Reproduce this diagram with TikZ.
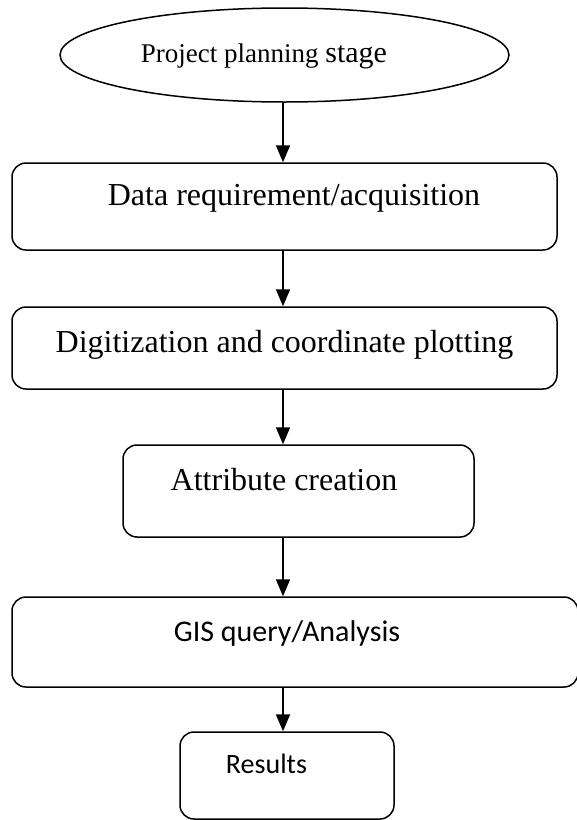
\documentclass[tikz,border=0pt]{standalone}
\usepackage{fontspec}
\setmainfont{Liberation Serif}
\newfontfamily\calfont{Carlito}
\usetikzlibrary{shapes.geometric,arrows.meta}

\begin{document}
\begin{tikzpicture}[x=1pt,y=-1pt,
  shapebox/.style={draw,line width=1.5pt,rounded corners=14pt,inner sep=0pt},
  flow/.style={draw,line width=1.8pt,-{Triangle[width=14pt,length=17pt]}},
  lbl/.style={anchor=base,inner sep=0pt}]
\useasboundingbox (0,0) rectangle (577,820);
\coordinate (ax) at (283,0);
\node[draw,ellipse,line width=1.5pt,minimum width=449pt,minimum height=94pt,inner sep=0pt] (e) at (284.5,55) {};
\node[shapebox,minimum width=545pt,minimum height=87pt] (b1) at (284.5,206.5) {};
\node[shapebox,minimum width=545pt,minimum height=82pt] (b2) at (284.5,348) {};
\node[shapebox,minimum width=351pt,minimum height=92pt] (b3) at (298.5,491) {};
\node[shapebox,minimum width=566pt,minimum height=90pt] (b4) at (295,642) {};
\node[shapebox,minimum width=214pt,minimum height=87pt] (b5) at (287,775.5) {};

\node[lbl] (t0) at (264,62) {\fontsize{27}{30}\selectfont Project planning \fontsize{30}{33}\selectfont stage};
\node[lbl] (t1) at (294,205) {\fontsize{32}{36}\selectfont Data requirement/acquisition};
\node[lbl] (t2) at (284.5,352) {\fontsize{32}{36}\selectfont Digitization and coordinate plotting};
\node[lbl] (t3) at (284,490) {\fontsize{32}{36}\selectfont Attribute creation};
\node[lbl] (t4) at (287,641) {\calfont\fontsize{30}{34}\selectfont GIS query/Analysis};
\node[lbl] (t5) at (266.5,773) {\calfont\fontsize{28}{32}\selectfont Results};

\draw[flow] (e.south -| ax) -- (b1.north -| ax);
\draw[flow] (b1.south -| ax) -- (b2.north -| ax);
\draw[flow] (b2.south -| ax) -- (b3.north -| ax);
\draw[flow] (b3.south -| ax) -- (b4.north -| ax);
\draw[flow] (b4.south -| ax) -- (b5.north -| ax);
\end{tikzpicture}
\end{document}
